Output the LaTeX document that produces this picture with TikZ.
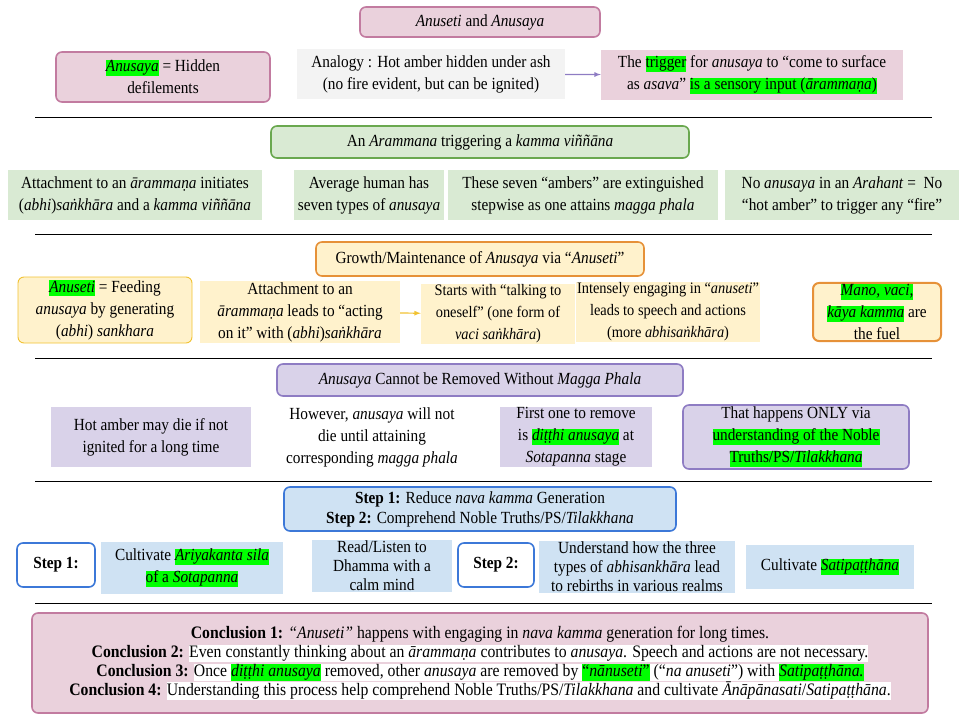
\documentclass[tikz,border=0pt]{standalone}
\usepackage{fontspec}
\setmainfont[FakeStretch=0.9]{Liberation Serif}
\definecolor{pinkfill}{HTML}{EAD1DC}
\definecolor{pinkline}{HTML}{C27BA0}
\definecolor{greenfill}{HTML}{D9EAD3}
\definecolor{greenline}{HTML}{6AA84F}
\definecolor{orangefill}{HTML}{FFF2CC}
\definecolor{orangeline}{HTML}{E69138}
\definecolor{yellowline}{HTML}{F1C232}
\definecolor{purplefill}{HTML}{D9D2E9}
\definecolor{purpleline}{HTML}{8E7CC3}
\definecolor{bluefill}{HTML}{CFE2F3}
\definecolor{blueline}{HTML}{3C78D8}
\definecolor{grayfill}{HTML}{F3F3F3}
\definecolor{hlgreen}{HTML}{00FF00}
\newcommand\hlstrut{\rule[-0.25em]{0pt}{0.95em}}
\newcommand\hlg[1]{{\setlength\fboxsep{0pt}\colorbox{hlgreen}{\hlstrut #1}}}
\newcommand\hlw[1]{{\setlength\fboxsep{0pt}\colorbox{white}{\hlstrut #1}}}
\begin{document}
\begin{tikzpicture}[x=1pt,y=-1pt,
    box/.style={align=center,inner sep=1pt,font=\fontsize{17}{22}\selectfont},
    title_style/.style={box,rounded corners=6pt,line width=1.6pt},
    sep_line/.style={draw=black,line width=0.7pt},
    arrow_style/.style={-latex,line width=1.2pt}]
\useasboundingbox (0,0) rectangle (960,720);
% row 1
\node[title_style,fill=pinkfill,draw=pinkline,minimum width=240,minimum height=30] (t1) at (480,22) {\emph{Anuseti} and \emph{Anusaya}};
\node[title_style,fill=pinkfill,draw=pinkline,minimum width=214,minimum height=50] (a1) at (163,77) {\hlg{\emph{Anusaya}} = Hidden\\defilements};
\node[box,fill=grayfill,minimum width=268,minimum height=50] (a2) at (431,74) {Analogy : Hot amber hidden under ash\\(no fire evident, but can be ignited)};
\node[box,fill=pinkfill,minimum width=302,minimum height=50] (a3) at (752,75) {The \hlg{trigger} for \emph{anusaya} to “come to surface\\as \emph{asava}” \hlg{is a sensory input (\emph{ārammaṇa})}};
\draw[arrow_style,purpleline] (a2) -- (a3);
\draw[sep_line] (35,117) -- (932,117);
% row 2
\node[title_style,fill=greenfill,draw=greenline,minimum width=418,minimum height=32] (t2) at (480,142) {An \emph{Arammana} triggering a \emph{kamma viññāna}};
\node[box,fill=greenfill,minimum width=254,minimum height=50] (b1) at (135,195) {Attachment to an \emph{ārammaṇa} initiates\\(\emph{abhi})\emph{saṅkhāra} and a \emph{kamma viññāna}};
\node[box,fill=greenfill,minimum width=150,minimum height=50] (b2) at (369,195) {Average human has\\seven types of \emph{anusaya}};
\node[box,fill=greenfill,minimum width=270,minimum height=50] (b3) at (583,195) {These seven “ambers” are extinguished\\stepwise as one attains \emph{magga phala}};
\node[box,fill=greenfill,minimum width=234,minimum height=50] (b4) at (842,195) {No \emph{anusaya} in an \emph{Arahant} =~ No\\“hot amber” to trigger any “fire”};
\draw[sep_line] (35,234) -- (932,234);
% row 3
\node[title_style,fill=orangefill,draw=orangeline,minimum width=328,minimum height=34] (t3) at (480,259) {Growth/Maintenance of \emph{Anusaya} via “\emph{Anuseti}”};
\node[title_style,line width=0.9pt,fill=orangefill,draw=yellowline,minimum width=174,minimum height=66] (c1) at (105,310) {\hlg{\emph{Anuseti}} = Feeding\\\emph{anusaya} by generating\\(\emph{abhi}) \emph{sankhara}};
\node[box,fill=orangefill,minimum width=200,minimum height=56] (c2) at (300,312) {Attachment to an\\\emph{ārammaṇa} leads to “acting\\on it” with (\emph{abhi})\emph{saṅkhāra}};
\node[box,fill=orangefill,minimum width=154,minimum height=56,font=\fontsize{16}{22}\selectfont] (c3) at (498,314) {Starts with “talking to\\oneself” (one form of\\\emph{vaci saṅkhāra})};
\node[box,fill=orangefill,minimum width=172,minimum height=56,font=\fontsize{16}{22}\selectfont] (c4) at (668,312) {Intensely engaging in “\emph{anuseti}”\\leads to speech and actions\\(more \emph{abhisaṅkhāra})};
\node[title_style,line width=2pt,fill=orangefill,draw=orangeline,minimum width=128,minimum height=54] (c5) at (877,312) {\hlg{\emph{Mano, vaci,}}\\\hlg{\emph{kāya kamma}} are\\the fuel};
\draw[arrow_style,yellowline] (c2) -- (c3);
\draw[sep_line] (35,358) -- (932,358);
% row 4
\node[title_style,fill=purplefill,draw=purpleline,minimum width=406,minimum height=32] (t4) at (480,380) {\emph{Anusaya} Cannot be Removed Without \emph{Magga Phala}};
\node[box,fill=purplefill,minimum width=200,minimum height=60] (d1) at (151,437) {Hot amber may die if not\\ignited for a long time};
\node[box,fill=white,minimum width=208,minimum height=62] (d2) at (372,437) {However, \emph{anusaya} will not\\die until attaining\\corresponding \emph{magga phala}};
\node[box,fill=purplefill,minimum width=152,minimum height=60] (d3) at (576,437) {First one to remove\\is \hlg{\emph{diṭṭhi anusaya}} at\\\emph{Sotapanna} stage};
\node[title_style,fill=purplefill,draw=purpleline,minimum width=226,minimum height=64] (d4) at (796,437) {That happens ONLY via\\\hlg{understanding of the Noble}\\\hlg{Truths/PS/\emph{Tilakkhana}}};
\draw[sep_line] (35,481) -- (932,481);
% row 5
\node[title_style,fill=bluefill,draw=blueline,minimum width=392,minimum height=44,font=\fontsize{17}{20}\selectfont] (t5) at (480,509) {\textbf{Step 1:} Reduce \emph{nava kamma} Generation\\\textbf{Step 2:} Comprehend Noble Truths/PS/\emph{Tilakkhana}};
\node[title_style,fill=white,draw=blueline,minimum width=78,minimum height=44] (s1) at (56,565) {\textbf{Step 1:}};
\node[box,fill=bluefill,minimum width=182,minimum height=52] (e1) at (192,568) {Cultivate \hlg{\emph{Ariyakanta sila}}\\\hlg{of a \emph{Sotapanna}}};
\node[box,fill=bluefill,minimum width=140,minimum height=50,font=\fontsize{17}{19}\selectfont] (e2) at (382,566) {Read/Listen to\\Dhamma with a\\calm mind};
\node[title_style,fill=white,draw=blueline,minimum width=76,minimum height=44] (s2) at (496,565) {\textbf{Step 2:}};
\node[box,fill=bluefill,minimum width=196,minimum height=52,font=\fontsize{17}{19}\selectfont] (e3) at (637,567) {Understand how the three\\types of \emph{abhisankhāra} lead\\to rebirths in various realms};
\node[box,fill=bluefill,minimum width=168,minimum height=44] (e4) at (830,567) {Cultivate \hlg{\emph{Satipaṭṭhāna}}};
\draw[sep_line] (35,603) -- (932,603);
% conclusions
\node[title_style,fill=pinkfill,draw=pinkline,minimum width=896,minimum height=100,font=\fontsize{17.5}{19}\selectfont] (f1) at (480,663) {%
\textbf{Conclusion 1:} \emph{“Anuseti”} happens with engaging in \emph{nava kamma} generation for long times.\\
\textbf{Conclusion 2:} \hlw{Even constantly thinking about an \emph{ārammaṇa} contributes to \emph{anusaya}. Speech and actions are not necessary.}\\
\textbf{Conclusion 3:} \hlw{Once \hlg{\emph{diṭṭhi anusaya}} removed, other \emph{anusaya} are removed by \hlg{“\emph{nānuseti}”} (“\emph{na anuseti}”) with \hlg{\emph{Satipaṭṭhāna.}}}\\
\textbf{Conclusion 4:} \hlw{Understanding this process help comprehend Noble Truths/PS/\emph{Tilakkhana} and cultivate \emph{Ānāpānasati}/\emph{Satipaṭṭhāna}.}};
\end{tikzpicture}
\end{document}
